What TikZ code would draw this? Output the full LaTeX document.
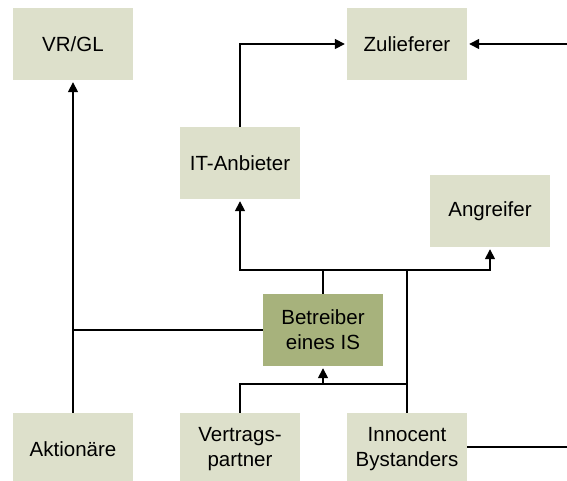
\documentclass[tikz,border=0pt]{standalone}
\usepackage{fontspec}
\setmainfont{Liberation Sans}
\usetikzlibrary{arrows.meta}
\definecolor{boxlight}{HTML}{DDE0CB}
\definecolor{boxdark}{HTML}{A7B27C}
\begin{document}
\begin{tikzpicture}[x=1pt,y=-1pt,
  box/.style={fill=boxlight,draw=none,minimum width=120pt,minimum height=72pt,inner sep=0pt,align=center,font=\fontsize{20.5}{25}\selectfont},
  darkbox/.style={box,fill=boxdark},
  conn/.style={line width=1.6pt},
  arr/.style={conn,-{Triangle[length=10pt,width=10pt]},shorten >=2pt}]
\useasboundingbox (0,0) rectangle (567,481);
\node[box] (vr) at (73,44) {VR/GL};
\node[box] (zul) at (407,44) {Zulieferer};
\node[box] (it) at (240,163) {IT-Anbieter};
\node[box] (ang) at (490,211) {Angreifer};
\node[darkbox] (betr) at (323,330) {Betreiber\\eines IS};
\node[box] (akt) at (73,449) {Aktionäre};
\node[box] (vert) at (240,449) {Vertrags-\\partner};
\node[box] (inno) at (407,449) {Innocent\\Bystanders};
\coordinate (bus) at (323,270);
\coordinate (bus2) at (323,384);
\coordinate (r1) at (567,44);
\coordinate (r2) at (567,447);
\draw[arr] (akt.north) -- (vr.south);
\draw[conn] (betr.west) -- (betr.west -| akt.north);
\draw[arr] (betr.north) -- (bus) -| (it.south);
\draw[arr] (bus) -| (ang.south);
\draw[conn] (inno.north) -- (inno.north |- bus);
\draw[conn] (vert.north) |- (bus2 -| inno.north);
\draw[arr] (bus2) -- (betr.south);
\draw[arr] (it.north) |- (zul.west);
\draw[arr] (r1) -- (zul.east);
\draw[conn] (inno.east |- r2) -- (r2);
\end{tikzpicture}
\end{document}
